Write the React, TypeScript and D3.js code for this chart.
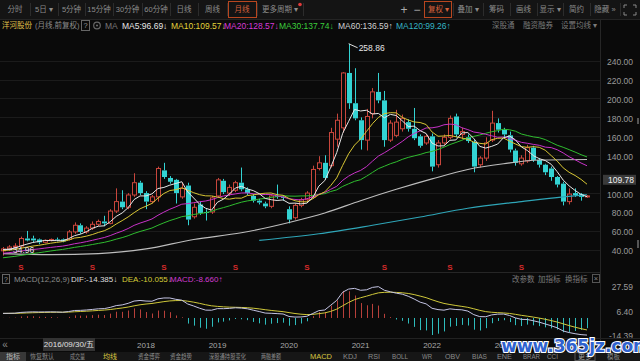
import React from 'react';
import * as d3 from 'd3';

const W = 640;
const H = 361;
const FONT = '"Liberation Sans", "Noto Sans CJK SC", sans-serif';

// monthly bars (前复权), oldest first
const openPx = [
  40, 42, 44, 45, 53, 53, 52, 49, 51, 52, 52, 52, 60, 67, 60, 64, 68, 71, 69, 82,
  92, 86, 99, 112, 101, 92, 97, 125, 117, 115, 97, 109, 76, 89, 81, 81, 98, 114, 101, 104,
  112, 105, 98, 93, 90, 87, 98, 97, 84, 75, 88, 94, 97, 127, 133, 130, 158, 170, 228, 196,
  178, 157, 185, 208, 199, 157, 162, 169, 176, 169, 161, 154, 161, 131, 154, 160, 182, 163, 160, 155,
  131, 138, 157, 175, 168, 162, 146, 132, 135, 149, 136, 131, 127, 118, 111, 92, 101, 100, 97,
];
const highPx = [
  44, 46, 48, 55, 61, 56, 53, 52, 53, 54, 53, 62, 70, 69, 66, 71, 73, 77, 84, 106,
  104, 101, 122, 114, 103, 99, 129, 133, 119, 116, 112, 112, 90, 92, 84, 98, 117, 116, 110, 114,
  128, 107, 100, 95, 92, 100, 110, 99, 87, 90, 96, 103, 130, 140, 141, 170, 185, 229, 258.86, 233,
  181, 190, 212, 228, 209, 178, 189, 184, 179, 191, 163, 163, 164, 157, 163, 183, 185, 170, 163, 157,
  140, 160, 188, 180, 170, 166, 148, 141, 152, 151, 138, 132, 129, 119, 113, 106, 106, 101, 99,
];
const lowPx = [
  34.96, 40, 42, 44, 50, 49, 47, 48, 50, 50, 49, 51, 58, 58, 58, 62, 66, 66, 68, 80,
  84, 84, 97, 99, 84, 90, 92, 116, 111, 90, 95, 67, 74, 78, 72, 79, 96, 100, 98, 102,
  103, 99, 91, 89, 85, 85, 95, 93, 69, 73, 86, 92, 95, 125, 115, 128, 150, 165, 190, 178,
  147, 146, 180, 196, 150, 155, 160, 166, 166, 157, 149, 152, 124, 128, 152, 158, 160, 158, 154, 123,
  128, 135, 155, 165, 160, 144, 130, 130, 133, 134, 128, 120, 114, 107, 88, 89, 97, 93, 96,
];
const closePx = [
  42, 44, 45, 53, 51, 51, 49, 51, 52, 51, 50, 60, 67, 60, 64, 68, 71, 69, 82, 92,
  86, 99, 112, 101, 92, 97, 127, 118, 113, 101, 106, 73, 86, 80, 80, 96, 115, 102, 107, 112,
  105, 101, 93, 91, 87, 98, 97, 96, 73, 88, 94, 101, 126, 133, 117, 165, 178, 228, 196, 180,
  157, 182, 208, 199, 157, 175, 176, 180, 169, 159, 151, 161, 129, 154, 160, 180, 163, 166, 156, 129,
  138, 154, 175, 168, 163, 147, 133, 138, 149, 136, 131, 123, 118, 110, 92, 100, 99, 97, 98,
];

// closes before the first visible bar, only used to warm up MA / MACD
const leadCloses = [
  22, 22, 23, 22, 21, 23, 24, 24, 25, 26, 30, 32, 33, 34, 35, 36, 35, 36, 37, 37,
  38, 39, 40, 39, 40, 41, 40, 41, 42,
];

// long averages (bar index, value)
const ma60Idx = [0, 8, 16, 24, 32, 40, 48, 54, 60, 66, 72, 78, 84, 90, 98];
const ma60Val = [37, 36, 37, 42, 52, 59, 70, 80, 93, 105, 116, 126, 132, 136, 136.59];
const ma120Idx = [43, 53, 62, 70, 78, 87, 94, 98];
const ma120Val = [51, 58, 67, 75.7, 85, 92, 97, 99.26];

const priceTicks = [240, 220, 200, 180, 160, 140, 100, 80, 60, 40];
const gridTicks = [240, 220, 200, 180, 160, 140, 120, 100, 80, 60, 40];
const macdTicks = [27.59, 6.4, -14.39];
const yearIdx = [24, 36, 48, 60, 72, 84];
const yearLabels = ['2018', '2019', '2020', '2021', '2022', '2023'];
const dividendIdx = [3, 15, 27, 39, 51, 64, 75, 87];

const UP = '#c8463c';
const DOWN = '#33d3d3';

const ma = (n: number) => {
  const all = [...leadCloses, ...closePx];
  return closePx.map((_, i) => {
    const j = i + leadCloses.length;
    return d3.mean(all.slice(Math.max(0, j - n + 1), j + 1)) as number;
  });
};

const macdSeries = () => {
  const all = [...leadCloses, ...closePx];
  let e12 = all[0];
  let e26 = all[0];
  let dea = 0;
  const out: { dif: number; dea: number; bar: number }[] = [];
  all.forEach((c, k) => {
    e12 = (e12 * 11) / 13 + (c * 2) / 13;
    e26 = (e26 * 25) / 27 + (c * 2) / 27;
    const dif = e12 - e26;
    dea = (dea * 8) / 10 + (dif * 2) / 10;
    if (k >= leadCloses.length) out.push({ dif, dea, bar: 2 * (dif - dea) });
  });
  return out;
};

const topTabs: [string, number, number][] = [
  ['分时', 0, 30], ['5日 ▾', 30, 58], ['5分钟', 58, 85], ['15分钟', 85, 113],
  ['30分钟', 113, 142], ['60分钟', 142, 170], ['日线', 170, 198], ['周线', 198, 227],
  ['月线', 227, 257], ['更多周期 ▾', 257, 303],
];
const rightTabs: [string, number, number][] = [
  ['复权 ▾', 424, 453], ['叠加 ▾', 453, 483], ['筹码', 483, 510], ['画线', 510, 537],
  ['显示 ▾', 537, 563], ['简约', 563, 590], ['隐藏 »', 590, 620],
];
const bottomTabs: [string, number, number, string][] = [
  ['恢复默认', 30, 54, '#8a8a8a'], ['成交量', 70, 85, '#8a8a8a'], ['均线', 103, 117, '#d8c640'],
  ['资金博弈', 138, 160, '#8a8a8a'], ['资金趋势', 170, 192, '#8a8a8a'], ['深股通持股变化', 209, 246, '#8a8a8a'],
  ['两融差额', 261, 281, '#8a8a8a'], ['MACD', 310, 332, '#d8c640'], ['KDJ', 343, 357, '#8a8a8a'],
  ['RSI', 368, 380, '#8a8a8a'], ['BOLL', 392, 408, '#8a8a8a'], ['WR', 422, 432, '#8a8a8a'],
  ['OBV', 445, 460, '#8a8a8a'], ['BIAS', 472, 487, '#8a8a8a'], ['ENE', 497, 512, '#8a8a8a'],
  ['BRAR', 523, 540, '#8a8a8a'], ['CCI', 547, 558, '#8a8a8a'], ['模板', 607, 620, '#8a8a8a'],
];

export default function App() {
  const idx = d3.range(closePx.length);
  const x = d3.scaleLinear().domain([0, closePx.length - 1]).range([3, 587]);
  const y = d3.scaleLinear().domain([40, 240]).range([250.8, 61.6]);
  const ym = d3.scaleLinear().domain([-14.39, 27.59]).range([334.5, 286.3]);

  const ma5 = ma(5);
  const ma10 = ma(10);
  const ma20 = ma(20);
  const ma30 = ma(30);
  const md = macdSeries();

  const line = (vals: number[]) =>
    d3.line<number>().x((_, i) => x(i)).y((v) => y(v))(vals) || '';
  const sparse = (ix: number[], vals: number[]) =>
    d3.line<number>().curve(d3.curveMonotoneX).x((i) => x(i)).y((_, k) => y(vals[k]))(ix) || '';
  const mline = (key: 'dif' | 'dea') =>
    d3.line<number>().x((i) => x(i)).y((i) => ym(md[i][key]))(idx) || '';

  const px = (v: number) => Math.round(v) + 0.5;
  const hiI = d3.maxIndex(highPx);
  const loI = d3.minIndex(lowPx);

  return (
    <div style={{ position: 'fixed', left: 0, top: 0, width: W, height: H, background: '#0a0a0a' }}>
      <svg width={W} height={H} style={{ display: 'block' }} fontFamily={FONT}>
        <defs>
          <clipPath id="mainClip">
            <rect x={0} y={33} width={600} height={240} />
          </clipPath>
          <clipPath id="macdClip">
            <rect x={0} y={284} width={600} height={54} />
          </clipPath>
        </defs>
        <rect width={W} height={H} fill="#0a0a0a" />

        {/* top toolbar */}
        <rect x={0} y={0} width={W} height={19} fill="#141414" />
        <line x1={0} x2={W} y1={19.5} y2={19.5} stroke="#242424" />
        {topTabs.map(([t, a, b]) => (
          <g key={t}>
            <line x1={b + 0.5} x2={b + 0.5} y1={3} y2={16} stroke="#2c2c2c" />
            {t === '月线' && (
              <rect x={a + 1.5} y={1.5} width={b - a - 2} height={16} fill="none" stroke="#b8461f" />
            )}
            <text x={(a + b) / 2} y={9.5} fontSize={7.5} textAnchor="middle" dominantBaseline="central"
              fill={t === '月线' ? '#d5603a' : '#8c8c8c'}>{t}</text>
          </g>
        ))}
        <circle cx={300} cy={4.5} r={1.8} fill="#e03a3a" />
        <text x={404} y={9.5} fontSize={12} textAnchor="middle" dominantBaseline="central" fill="#aaa">+</text>
        <text x={417} y={9.5} fontSize={12} textAnchor="middle" dominantBaseline="central" fill="#aaa">−</text>
        {rightTabs.map(([t, a, b]) => (
          <g key={t}>
            <line x1={b + 0.5} x2={b + 0.5} y1={3} y2={16} stroke="#2c2c2c" />
            {t === '复权 ▾' && (
              <rect x={a + 0.5} y={1.5} width={b - a - 2} height={16} fill="none" stroke="#b8461f" />
            )}
            <text x={(a + b) / 2} y={9.5} fontSize={7.5} textAnchor="middle" dominantBaseline="central"
              fill={t === '复权 ▾' ? '#d5603a' : '#8c8c8c'}>{t}</text>
          </g>
        ))}
        <path d="M624,8 V5 H627 M633,5 H636 V8 M636,12 V15 H633 M627,15 H624 V12" fill="none" stroke="#888" />

        {/* legend row */}
        <text x={2} y={25.5} fontSize={7.5} dominantBaseline="central" fill="#e2c24a">洋河股份</text>
        <text x={35} y={25.5} fontSize={7.5} dominantBaseline="central" fill="#8a8a8a">(月线,前复权)</text>
        <rect x={81.5} y={20.5} width={8} height={10} fill="none" stroke="#666" />
        <text x={85.5} y={25.5} fontSize={7.5} textAnchor="middle" dominantBaseline="central" fill="#999">?</text>
        <circle cx={97} cy={25.5} r={3.3} fill="none" stroke="#666" strokeWidth={1.2} />
        <circle cx={97} cy={25.5} r={1.1} fill="#666" />
        <text x={105} y={25.5} fontSize={8.5} dominantBaseline="central" fill="#777">MA</text>
        <text x={122} y={25.5} fontSize={8.5} dominantBaseline="central" fill="#e6e6e6">MA5:96.69↓</text>
        <text x={171} y={25.5} fontSize={8.5} dominantBaseline="central" fill="#e2d23a">MA10:109.57↓</text>
        <text x={224} y={25.5} fontSize={8.5} dominantBaseline="central" fill="#d63ad6">MA20:128.57↓</text>
        <text x={279} y={25.5} fontSize={8.5} dominantBaseline="central" fill="#3ccf3c">MA30:137.74↓</text>
        <text x={338} y={25.5} fontSize={8.5} dominantBaseline="central" fill="#d0d0d0">MA60:136.59↑</text>
        <text x={396} y={25.5} fontSize={8.5} dominantBaseline="central" fill="#35b5c5">MA120:99.26↑</text>
        <text x={492} y={25.5} fontSize={7.5} dominantBaseline="central" fill="#7a7a7a">深股通</text>
        <text x={523} y={25.5} fontSize={7.5} dominantBaseline="central" fill="#7a7a7a">融资融券</text>
        <text x={561} y={25.5} fontSize={7.5} dominantBaseline="central" fill="#7a7a7a">设置均线 ▾</text>

        {/* grid */}
        {gridTicks.map((t) => (
          <line key={t} x1={0} x2={600} y1={px(y(t)) - 1} y2={px(y(t)) - 1} stroke="#1b1b1b" />
        ))}

        {/* candles + moving averages */}
        <g clipPath="url(#mainClip)">
          {idx.map((i) => {
            const up = closePx[i] >= openPx[i];
            const c = up ? UP : DOWN;
            const top = y(Math.max(openPx[i], closePx[i]));
            const bot = y(Math.min(openPx[i], closePx[i]));
            const cx = Math.round(x(i));
            return (
              <g key={i}>
                <line x1={cx + 0.5} x2={cx + 0.5} y1={y(highPx[i])} y2={top} stroke={c} />
                <line x1={cx + 0.5} x2={cx + 0.5} y1={bot} y2={y(lowPx[i])} stroke={c} />
                {up ? (
                  <rect x={cx - 1.5} y={top} width={4} height={Math.max(1, bot - top)} fill="#0a0a0a" stroke={c} />
                ) : (
                  <rect x={cx - 2} y={top} width={5} height={Math.max(1, bot - top)} fill={c} />
                )}
              </g>
            );
          })}
          <path d={sparse(ma120Idx, ma120Val)} fill="none" stroke="#2fa6b8" strokeWidth={1.2} />
          <path d={sparse(ma60Idx, ma60Val)} fill="none" stroke="#bdbdbd" strokeWidth={1.1} />
          <path d={line(ma30)} fill="none" stroke="#2fbd2f" strokeWidth={1} />
          <path d={line(ma20)} fill="none" stroke="#c832c8" strokeWidth={1} />
          <path d={line(ma10)} fill="none" stroke="#d8c634" strokeWidth={1} />
          <path d={line(ma5)} fill="none" stroke="#e8e8e8" strokeWidth={1} />
        </g>

        {/* high / low marks */}
        <path d={`M${x(hiI)},${y(highPx[hiI])} L${x(hiI) + 9},${y(highPx[hiI]) + 4}`} stroke="#ddd" fill="none" />
        <text x={x(hiI) + 10} y={y(highPx[hiI]) + 4} fontSize={8.5} dominantBaseline="central" fill="#e6e6e6">{highPx[hiI].toFixed(2)}</text>
        <path d={`M${x(loI)},${y(lowPx[loI]) - 6} L${x(loI) + 9},${y(lowPx[loI]) - 6}`} stroke="#ddd" fill="none" />
        <text x={x(loI) + 10} y={y(lowPx[loI]) - 6} fontSize={8.5} dominantBaseline="central" fill="#e6e6e6">{lowPx[loI].toFixed(2)}</text>

        {/* dividend marks */}
        {dividendIdx.map((i) => (
          <text key={i} x={x(i)} y={267} fontSize={8} fontWeight="bold" textAnchor="middle" dominantBaseline="central" fill="#d42a2a">S</text>
        ))}

        {/* right axis */}
        <line x1={600.5} x2={600.5} y1={20} y2={352} stroke="#262626" />
        {priceTicks.map((t) => (
          <text key={t} x={633} y={y(t) + 0.5} fontSize={8.5} textAnchor="end" dominantBaseline="central" fill="#9a9a9a">{t.toFixed(2)}</text>
        ))}
        <rect x={603} y={y(109.78) - 10} width={33} height={10} fill="#3a3a3a" />
        <text x={634} y={y(109.78) - 5} fontSize={8.5} textAnchor="end" dominantBaseline="central" fill="#f0f0f0">109.78</text>
        <rect x={637} y={118} width={2} height={6} fill="#555" />
        <rect x={637} y={240} width={2} height={8} fill="#555" />

        {/* MACD panel */}
        <line x1={0} x2={600} y1={272.5} y2={272.5} stroke="#262626" />
        <rect x={2.5} y={274.5} width={7} height={9} fill="none" stroke="#666" />
        <text x={6} y={279} fontSize={7} textAnchor="middle" dominantBaseline="central" fill="#999">?</text>
        <text x={14} y={279} fontSize={8} dominantBaseline="central" fill="#8a8a8a">MACD(12,26,9)</text>
        <text x={71} y={279} fontSize={8} dominantBaseline="central" fill="#dcdcdc">DIF:-14.385↓</text>
        <text x={122} y={279} fontSize={8} dominantBaseline="central" fill="#d6cc38">DEA:-10.055↓</text>
        <text x={170} y={279} fontSize={8} dominantBaseline="central" fill="#d03ad0">MACD:-8.660↑</text>
        <text x={512} y={279} fontSize={7.5} dominantBaseline="central" fill="#7a7a7a">改参数</text>
        <text x={538} y={279} fontSize={7.5} dominantBaseline="central" fill="#7a7a7a">加指标</text>
        <text x={565} y={279} fontSize={7.5} dominantBaseline="central" fill="#7a7a7a">换指标</text>
        <rect x={592.5} y={274.5} width={7} height={8} fill="none" stroke="#555" />
        <text x={596} y={278.5} fontSize={7.5} textAnchor="middle" dominantBaseline="central" fill="#888">×</text>
        {macdTicks.map((t) => (
          <text key={t} x={633} y={ym(t) + 1} fontSize={8.5} textAnchor="end" dominantBaseline="central" fill="#9a9a9a">{t.toFixed(2)}</text>
        ))}
        <g clipPath="url(#macdClip)">
          {idx.map((i) => (
            <line key={i} x1={px(x(i))} x2={px(x(i))} y1={ym(0)} y2={ym(md[i].bar)}
              stroke={md[i].bar >= 0 ? '#b8403a' : '#2ebcbc'} />
          ))}
          <path d={mline('dea')} fill="none" stroke="#cfc83a" strokeWidth={1} />
          <path d={mline('dif')} fill="none" stroke="#c4c4e4" strokeWidth={1} />
        </g>

        {/* time axis */}
        <line x1={0} x2={W} y1={338.5} y2={338.5} stroke="#222" />
        <text x={5} y={344} fontSize={10} textAnchor="middle" dominantBaseline="central" fill="#888">«</text>
        {yearIdx.map((i, k) => (
          <text key={i} x={x(i)} y={345} fontSize={8} textAnchor="middle" dominantBaseline="central" fill="#a8a8a8">{yearLabels[k]}</text>
        ))}
        <rect x={43} y={338} width={52} height={13} fill="#333" />
        <text x={69} y={344.5} fontSize={8} textAnchor="middle" dominantBaseline="central" fill="#e0e0e0">2016/09/30/五</text>

        {/* indicator tabs */}
        <rect x={0} y={352} width={W} height={9} fill="#161616" />
        <rect x={0} y={352} width={26} height={9} fill="#383838" />
        <text x={13} y={356.5} fontSize={7} textAnchor="middle" dominantBaseline="central" fill="#bbb">指标</text>
        {bottomTabs.map(([t, a, b, c]) => (
          <text key={t} x={a} y={356.5} fontSize={7} textLength={b - a} lengthAdjust="spacingAndGlyphs"
            dominantBaseline="central" fill={c}>{t}</text>
        ))}
        <rect x={575} y={352.5} width={20} height={8} fill="none" stroke="#555" />
        <text x={585} y={356.5} fontSize={7} textAnchor="middle" dominantBaseline="central" fill="#999">更多</text>

        {/* watermark */}
        <text x={576} y={346} fontSize={17} fontWeight="bold" textAnchor="middle" dominantBaseline="central"
          fill="#2f62cf" stroke="#ffffff" strokeWidth={2.2} paintOrder="stroke"
          fontFamily='"DejaVu Sans", sans-serif'>www.365jz.com</text>
      </svg>
    </div>
  );
}
